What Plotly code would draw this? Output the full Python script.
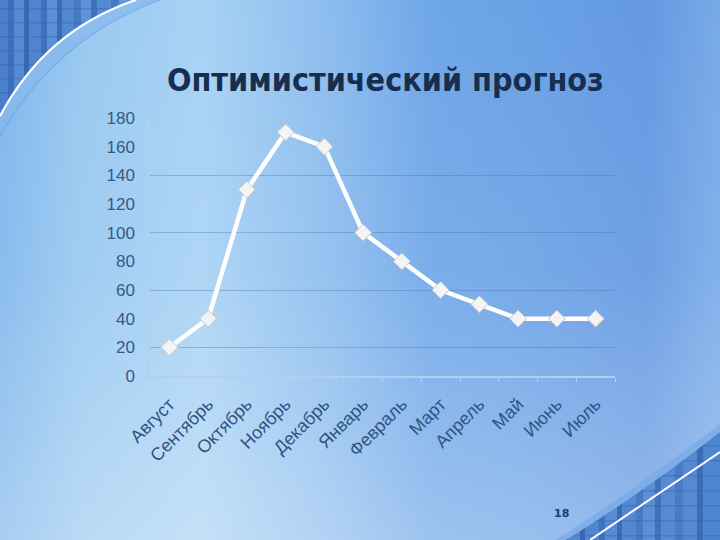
import base64
import plotly.graph_objects as go

months = ["Август", "Сентябрь", "Октябрь", "Ноябрь", "Декабрь", "Январь",
          "Февраль", "Март", "Апрель", "Май", "Июнь", "Июль"]
values = [20, 40, 130, 170, 160, 100, 80, 60, 50, 40, 40, 40]
y_ticks = [0, 20, 40, 60, 80, 100, 120, 140, 160, 180]
title_text = "Оптимистический прогноз"
page_number = "18"

W, H = 720, 540
L, R, T, B = 150, 105, 118, 164
pw, ph = W - L - R, H - T - B

stripes_tl = "".join(
    f'<rect x="{x}" y="0" width="{w}" height="150" fill="{c}"/>'
    for x, w, c in [(0, 8, "#4a80cc"), (8, 6, "#3c70bc"), (14, 10, "#558ad0"), (24, 5, "#3868b4"),
                    (29, 12, "#4f85ce"), (41, 6, "#3f72bd"), (47, 10, "#5b90d6"), (57, 5, "#3a6cb6"),
                    (62, 12, "#5288d0"), (74, 7, "#467bc4"), (81, 10, "#5e93d8"), (91, 6, "#3f72bc"),
                    (97, 14, "#568bd2"), (111, 8, "#467bc6"), (119, 25, "#6499dc")]
)
hlines_tl = "".join(f'<rect x="0" y="{y}" width="150" height="1.5" fill="#3566b2" opacity="0.45"/>'
                    for y in range(8, 130, 14))
stripes_br = "".join(
    f'<rect x="{x}" y="420" width="{w}" height="120" fill="{c}"/>'
    for x, w, c in [(550, 12, "#4a80cc"), (562, 6, "#3a6cb8"), (568, 12, "#558ad0"), (580, 5, "#3868b4"),
                    (585, 14, "#4f85ce"), (599, 6, "#3f72bd"), (605, 12, "#578cd2"), (617, 5, "#3a6cb6"),
                    (622, 14, "#5288d0"), (636, 7, "#467bc4"), (643, 12, "#5a8fd4"), (655, 6, "#3f72bc"),
                    (661, 14, "#568bd2"), (675, 8, "#467bc6"), (683, 14, "#558ad0"), (697, 6, "#3a6cb8"),
                    (703, 17, "#4f85ce")]
)
hlines_br = "".join(f'<rect x="540" y="{y}" width="180" height="1.5" fill="#3566b2" opacity="0.45"/>'
                    for y in range(430, 540, 15))

svg = f'''<svg xmlns="http://www.w3.org/2000/svg" width="{W}" height="{H}" viewBox="0 0 {W} {H}">
<defs>
<linearGradient id="gh" x1="0" y1="0" x2="1" y2="0">
<stop offset="0" stop-color="#80b6ec"/>
<stop offset="0.11" stop-color="#98c8f0"/>
<stop offset="0.28" stop-color="#a8d2f4"/>
<stop offset="0.46" stop-color="#8cbcee"/>
<stop offset="0.6" stop-color="#6ea6e8"/>
<stop offset="0.72" stop-color="#6aa2e6"/>
<stop offset="0.9" stop-color="#6398e2"/>
<stop offset="1" stop-color="#78aae8"/>
</linearGradient>
<linearGradient id="gv" x1="0" y1="0" x2="0" y2="1">
<stop offset="0" stop-color="#ffffff" stop-opacity="0"/>
<stop offset="0.5" stop-color="#ffffff" stop-opacity="0.08"/>
<stop offset="1" stop-color="#ffffff" stop-opacity="0.32"/>
</linearGradient>
<clipPath id="ctl"><path d="M0,0 L136,0 Q46,30 0,116 Z"/></clipPath>
<clipPath id="cbr"><path d="M720,540 L566,540 Q644,492 720,432 Z"/></clipPath>
</defs>
<rect width="{W}" height="{H}" fill="url(#gh)"/>
<rect width="{W}" height="{H}" fill="url(#gv)"/>
<path d="M0,0 L160,0 Q56,38 0,136 Z" fill="#86b8ec" opacity="0.7"/>
<g clip-path="url(#ctl)">{stripes_tl}{hlines_tl}</g>
<path d="M0,116 Q46,30 136,0" fill="none" stroke="#ffffff" stroke-width="2.2"/>
<path d="M0,136 Q56,38 160,0" fill="none" stroke="#6a9ede" stroke-width="1.2" opacity="0.6"/>
<path d="M720,540 L556,540 Q636,488 720,424 Z" fill="#76a9e6" opacity="0.7"/>
<g clip-path="url(#cbr)">{stripes_br}{hlines_br}</g>
<path d="M590,540 Q658,494 720,452" fill="none" stroke="#ffffff" stroke-width="2"/>
</svg>'''
bg_src = "data:image/svg+xml;base64," + base64.b64encode(svg.encode("utf-8")).decode("ascii")

fig = go.Figure()
fig.add_trace(go.Scatter(
    x=months, y=values, mode="lines+markers",
    line=dict(color="#ffffff", width=4.5),
    marker=dict(symbol="diamond", size=13, color="#f4f4f4",
                line=dict(color="#c8c8c8", width=1)),
    hoverinfo="skip", showlegend=False,
))
# invisible trace on overlay axis for gridlines at 20, 60, ..., 180
fig.add_trace(go.Scatter(x=months, y=values, yaxis="y2", mode="markers",
                         marker=dict(opacity=0), hoverinfo="skip", showlegend=False))

fig.update_layout(
    width=W, height=H,
    margin=dict(l=L, r=R, t=T, b=B),
    paper_bgcolor="rgba(0,0,0,0)",
    plot_bgcolor="rgba(0,0,0,0)",
    images=[dict(source=bg_src, xref="paper", yref="paper",
                 x=-L / pw, y=1 + T / ph, sizex=W / pw, sizey=H / ph,
                 sizing="stretch", xanchor="left", yanchor="top", layer="below")],
    xaxis=dict(
        type="category", tickangle=-45, range=[-0.5, len(months) - 0.5],
        tickfont=dict(family="Liberation Sans, Arial, sans-serif", size=18, color="#2e5486"),
        showgrid=False, showline=True, linecolor="#b2cff0", linewidth=1.5,
        ticks="outside", tickson="boundaries", ticklen=4, tickcolor="#b2cff0",
        ticklabelstandoff=9, zeroline=False,
    ),
    yaxis=dict(
        range=[0, 180], tickvals=y_ticks, ticktext=[str(v) for v in y_ticks],
        tickfont=dict(family="Liberation Sans, Arial, sans-serif", size=17, color="#34598a"),
        showgrid=False, showline=True, linecolor="#b2cff0", linewidth=1.5,
        ticks="", ticklabelstandoff=10, zeroline=False,
    ),
    yaxis2=dict(
        overlaying="y", range=[0, 180], tick0=20, dtick=40, showticklabels=False,
        showgrid=True, gridcolor="rgba(70,110,165,0.35)", gridwidth=1,
        zeroline=False, showline=False, ticks="",
    ),
    annotations=[
        dict(text=f"<b>{title_text}</b>", xref="paper", yref="paper",
             x=(385 - L) / pw, y=1 + (T - 80) / ph, xanchor="center", yanchor="middle",
             showarrow=False,
             font=dict(family="DejaVu Sans Condensed, DejaVu Sans, sans-serif", size=32, color="#172e4e")),
        dict(text=f"<b>{page_number}</b>", xref="paper", yref="paper",
             x=(561 - L) / pw, y=-(513 - (T + ph)) / ph, xanchor="center", yanchor="middle",
             showarrow=False,
             font=dict(family="DejaVu Sans, sans-serif", size=11, color="#1f3d66")),
    ],
)

fig.write_html(
    "out.html",
    config={"displayModeBar": False},
    post_script="document.body.style.margin='0';document.body.style.overflow='hidden';",
)
